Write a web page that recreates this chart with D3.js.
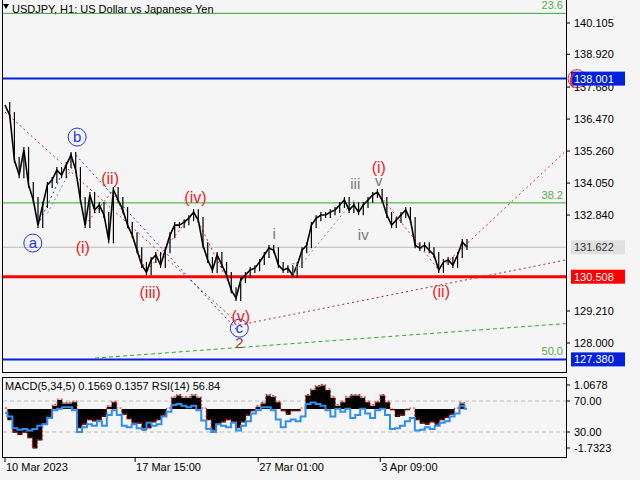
<!DOCTYPE html><html><head><meta charset="utf-8">
<script src="https://cdn.jsdelivr.net/npm/d3@7"></script>
<style>body{margin:0;background:#f5f5f5}svg{display:block;font-family:"Liberation Sans",Arial,sans-serif}</style></head><body>
<script>
const closes=[137.00,136.62,134.92,134.35,135.30,133.98,133.41,132.46,133.22,133.98,
134.17,134.54,134.35,134.73,135.11,134.54,133.41,132.46,133.60,133.03,
133.22,132.84,131.89,133.79,133.41,133.03,132.46,132.08,131.51,130.95,
130.68,131.14,131.33,130.95,131.51,132.08,132.46,132.46,132.57,132.72,
132.95,132.65,131.70,131.14,130.76,131.33,130.95,130.57,130.00,129.70,
130.38,130.57,130.76,130.83,131.06,131.33,131.59,131.51,130.95,130.76,
130.83,130.57,130.95,131.51,131.70,132.46,132.72,132.84,132.84,132.95,
133.03,133.22,133.41,133.03,133.22,132.95,133.22,133.41,133.60,133.71,
133.41,132.84,132.46,132.65,132.84,133.03,132.65,131.70,131.59,131.70,
131.51,131.33,130.76,131.06,131.14,130.95,131.33,131.82,131.63];
const macd=[0,-0.5,-1.05,-1.15,-1.05,-1.3,-1.75,-1.4,-0.7,-0.35,0.15,0.4,0.25,0.25,0.3,-0.85,-0.7,-0.5,-0.55,-0.5,
-0.35,0.1,0.3,0,-0.25,-0.45,-0.65,-0.65,-0.95,-0.85,-0.6,-0.5,-0.3,0,0.5,0.6,0.5,0.5,0.6,0.5,
0,-0.5,-0.95,-0.7,-0.6,-0.5,-0.6,-0.85,-0.6,-0.3,-0.1,0.1,0.25,0.6,0.55,0.3,-0.1,-0.25,-0.1,-0.1,
0,0.6,0.85,1.0,1.05,0.85,0.5,0.15,0.3,0.5,0.6,0.6,0.5,0.3,0.15,0.3,0.6,0.3,-0.05,-0.35,
-0.3,-0.05,0,-0.5,-0.65,-0.7,-0.6,-0.7,-0.5,-0.4,-0.25,0,0.25,0.05];
const rsi=[55,50,35,33,34,32,34,38,40,48,58,60,62,62,58,30,36,40,38,44,38,52,58,52,38,36,40,35,34,42,38,40,50,56,65,66,64,62,64,58,
45,34,30,40,38,36,42,32,38,44,54,58,62,62,58,46,36,44,46,44,50,66,68,66,64,58,50,60,56,60,48,52,60,54,48,58,60,52,34,35,
38,44,48,32,33,36,34,38,42,44,50,54,64,60];
const priceTicks=[140.105,138.920,137.680,136.470,135.260,134.050,132.840,129.210,128.000];
const levels=[{p:138.001,c:"#0022dd",w:2,box:"#0022dd",t:"#fff"},{p:131.622,c:"#bbbbbb",w:1,box:"#e0e0e0",t:"#333"},
{p:130.508,c:"#ff0000",w:3,box:"#ff0000",t:"#fff"},{p:127.380,c:"#0022dd",w:2,box:"#0022dd",t:"#fff"}];
const fibs=[{p:140.47,c:"#33aa33",t:"23.6"},{p:133.30,c:"#33aa33",t:"38.2"},{p:127.38,c:null,t:"50.0"}];
const dateLabels=["10 Mar 2023","17 Mar 15:00","27 Mar 01:00","3 Apr 09:00"];
const dateIdx=[0,27.6,53.7,79.6];
const circleLabels=[{t:"a",i:5.9,p:131.78},{t:"b",i:15.3,p:135.79},{t:"c",i:49.7,p:128.56}];
const redLabels=[{t:"(i)",i:16.5,p:131.63},{t:"(ii)",i:22.3,p:134.24},{t:"(iii)",i:30.8,p:129.93},{t:"(iv)",i:40.4,p:133.52},{t:"(v)",i:50.0,p:129.02},{t:"(i)",i:79.3,p:134.66},{t:"(ii)",i:92.5,p:129.96}];
const greyLabels=[{t:"i",i:57.1,p:132.16},{t:"ii",i:61.5,p:130.83},{t:"iii",i:74.3,p:134.05},{t:"iv",i:76.0,p:132.12},{t:"v",i:79.3,p:134.17}];
const dotLines=[
 {c:"#a33",pts:[[0,136.74],[49.7,128.7]]},
 {c:"#2233ee",pts:[[15,135.11],[49.7,128.4]]},
 {c:"#2233ee",pts:[[7,132.46],[14,135.11]]},
 {c:"#ee2222",pts:[[17,132.46],[23,133.79],[30,130.68],[40,132.95],[49,129.70]]},
 {c:"#ee2222",pts:[[79,133.71],[92,130.76]]},
 {c:"#ee2222",pts:[[92,130.76],[130.5,137.19]]},
 {c:"#a33",pts:[[49.7,128.68],[134.7,131.70]]},
 {c:"#33aa33",pts:[[19.1,127.43],[134.7,128.94]],dash:"4,3"},
 {c:"#888",pts:[[61,130.57],[74,133.4]]},
 {c:"#888",pts:[[9,132.9],[15,134.9]]}];

const W=640,H=480;
const svg=d3.select("body").append("svg").attr("width",W).attr("height",H).style("background","#f5f5f5");
const n=closes.length;
const x=d3.scaleLinear().domain([0,n-1]).range([5,467]);
const y=d3.scaleLinear().domain([128,140.105]).range([343,23]);
const xs=d3.scaleLinear().domain([0,macd.length-1]).range([5,467]);
const xr=d3.scaleLinear().domain([0,rsi.length-1]).range([5,467]);
const ym=d3.scaleLinear().domain([-1.7323,1.0678]).range([448,385]);
const yr=d3.scaleLinear().domain([30,70]).range([432,401]);

const main=svg.append("g");
main.append("defs").append("clipPath").attr("id","cp").append("rect").attr("x",2).attr("y",0).attr("width",564).attr("height",372);
const cg=main.append("g").attr("clip-path","url(#cp)");
fibs.forEach(f=>{ if(f.c) cg.append("line").attr("x1",0).attr("x2",566).attr("y1",y(f.p)).attr("y2",y(f.p)).attr("stroke",f.c);});
levels.forEach(l=>cg.append("line").attr("x1",0).attr("x2",566).attr("y1",y(l.p)).attr("y2",y(l.p)).attr("stroke",l.c).attr("stroke-width",l.w));
fibs.forEach(f=>svg.append("text").attr("x",566-3).attr("y",y(f.p)-4).attr("text-anchor","end").attr("font-size",11).attr("fill","#55aa55").text(f.t));
const ln=d3.line().x(d=>x(d[0])).y(d=>y(d[1]));
dotLines.forEach(d=>cg.append("path").attr("d",ln(d.pts)).attr("fill","none").attr("stroke",d.c).attr("stroke-width",1).attr("stroke-dasharray",d.dash||"2,3"));
closes.forEach((c,i)=>{ if(i===0)return; const a=closes[i-1];
 cg.append("line").attr("x1",x(i)).attr("x2",x(i)).attr("y1",y(Math.max(a,c))-3).attr("y2",y(Math.min(a,c))+3).attr("stroke","#000").attr("stroke-width",1.2);});
cg.append("path").attr("d",d3.line().x((d,i)=>x(i)).y(d=>y(d))(closes)).attr("fill","none").attr("stroke","#000").attr("stroke-width",1.6);
circleLabels.forEach(l=>{cg.append("circle").attr("cx",x(l.i)).attr("cy",y(l.p)).attr("r",9).attr("fill","none").attr("stroke","#2233ee");
 cg.append("text").attr("x",x(l.i)).attr("y",y(l.p)+5).attr("text-anchor","middle").attr("font-size",15).attr("fill","#2233ee").text(l.t);});
redLabels.forEach(l=>cg.append("text").attr("x",x(l.i)).attr("y",y(l.p)+6).attr("text-anchor","middle").attr("font-size",16).attr("fill","#ee2222").text(l.t));
greyLabels.forEach(l=>cg.append("text").attr("x",x(l.i)).attr("y",y(l.p)+6).attr("text-anchor","middle").attr("font-size",15).attr("fill","#777").text(l.t));
cg.append("text").attr("x",x(49.7)).attr("y",y(128.03)+6).attr("text-anchor","middle").attr("font-size",15).attr("fill","#8b4a2b").text("2");
svg.append("circle").attr("cx",577).attr("cy",y(138.001)).attr("r",9).attr("fill","none").attr("stroke","#ee2222");
svg.append("line").attr("x1",2.5).attr("x2",2.5).attr("y1",0).attr("y2",372).attr("stroke","#000");
svg.append("line").attr("x1",566.5).attr("x2",566.5).attr("y1",0).attr("y2",372).attr("stroke","#000");
svg.append("line").attr("x1",2).attr("x2",567).attr("y1",372.5).attr("y2",372.5).attr("stroke","#000");
priceTicks.forEach(p=>{svg.append("line").attr("x1",566).attr("x2",570).attr("y1",y(p)).attr("y2",y(p)).attr("stroke","#000");
 svg.append("text").attr("x",574).attr("y",y(p)+4).attr("font-size",11).attr("fill","#000").text(p.toFixed(3));});
levels.forEach(l=>{svg.append("rect").attr("x",571).attr("y",y(l.p)-7).attr("width",54).attr("height",14).attr("fill",l.box);
 svg.append("text").attr("x",574).attr("y",y(l.p)+4).attr("font-size",11).attr("fill",l.t).text(l.p.toFixed(3));});
svg.append("text").attr("x",569).attr("y",y(138.001)+6).attr("font-size",16).attr("fill","#ee2222").text("(");
svg.append("path").attr("d","M3,4 L9,4 L6,9 Z").attr("fill","#000");
svg.append("text").attr("x",12).attr("y",13).attr("font-size",11).attr("fill","#000").text("USDJPY, H1:  US Dollar vs Japanese Yen");
svg.append("rect").attr("x",2.5).attr("y",377.5).attr("width",564).attr("height",80).attr("fill","none").attr("stroke","#000");
[70,30].forEach(v=>svg.append("line").attr("x1",3).attr("x2",566).attr("y1",yr(v)).attr("y2",yr(v)).attr("stroke","#bbb").attr("stroke-dasharray","4,3"));
svg.append("path").attr("d",d3.area().x((d,i)=>xs(i)).y0(ym(0)).y1(d=>ym(d)).curve(d3.curveStep)(macd)).attr("fill","#000");
svg.append("path").attr("d",d3.line().x((d,i)=>xs(i)).y(d=>ym(d)-1).curve(d3.curveStep)(macd)).attr("fill","none").attr("stroke","#ff0000").attr("stroke-dasharray","2,2");
svg.append("path").attr("d",d3.line().x((d,i)=>xr(i)).y(d=>yr(d)).curve(d3.curveStep)(rsi)).attr("fill","none").attr("stroke","#2f8ff0").attr("stroke-width",2);
svg.append("text").attr("x",5).attr("y",390).attr("font-size",11).attr("fill","#000").text("MACD(5,34,5) 0.1569 0.1357 RSI(14) 56.84");
[[1.0678,ym(1.0678)],[70,yr(70)],[30,yr(30)],[-1.7323,ym(-1.7323)]].forEach(([v,yy])=>{
 svg.append("line").attr("x1",566).attr("x2",570).attr("y1",yy).attr("y2",yy).attr("stroke","#000");
 svg.append("text").attr("x",574).attr("y",yy+4).attr("font-size",11).text(Math.abs(v)<2?v.toFixed(4):v.toFixed(2));});
dateLabels.forEach((t,i)=>{const xx=Math.max(2.5,x(dateIdx[i]));
 svg.append("line").attr("x1",xx).attr("x2",xx).attr("y1",458).attr("y2",462).attr("stroke","#000");
 svg.append("text").attr("x",xx+1).attr("y",471).attr("font-size",11).text(t);});
</script></body></html>
